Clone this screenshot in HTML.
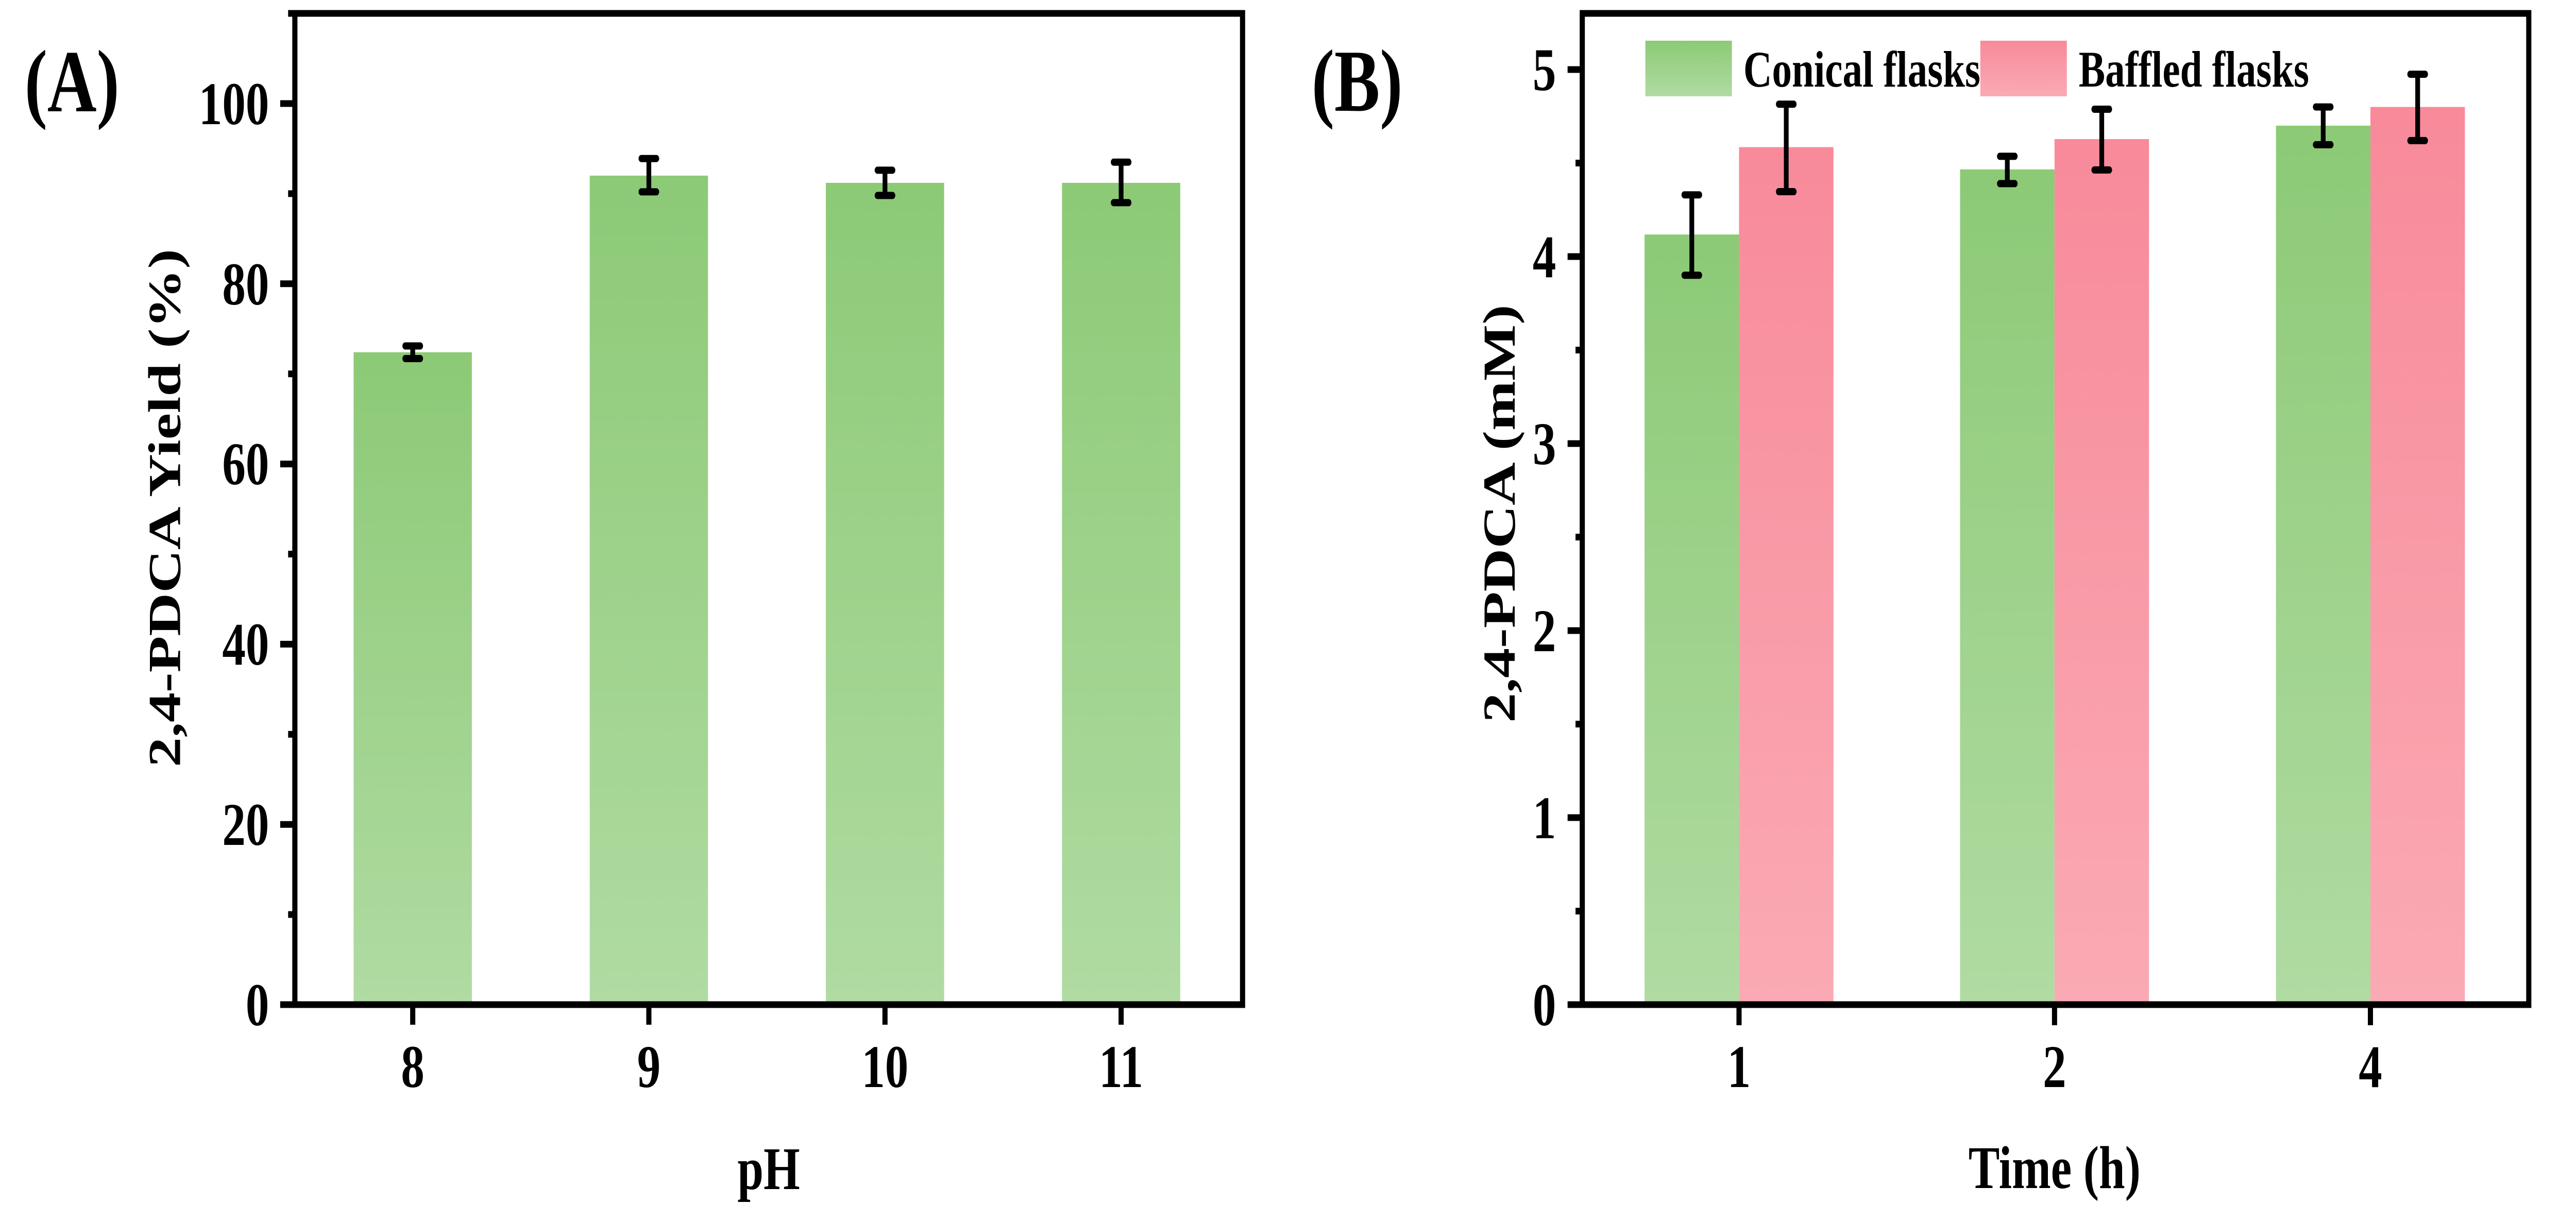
<!DOCTYPE html>
<html>
<head>
<meta charset="utf-8">
<style>
  html, body { margin: 0; padding: 0; background: #ffffff; width: 100%; height: 100%; overflow: hidden; }
  svg { display: block; position: absolute; left: 0; top: 0; width: 100%; height: 100%; }
  text { font-family: "Liberation Serif", "Times New Roman", serif; font-weight: bold; fill: #000; }
</style>
</head>
<body>
<svg viewBox="0 0 6491 2370" preserveAspectRatio="none" xmlns="http://www.w3.org/2000/svg">
  <defs>
    <linearGradient id="gG" x1="0" y1="0" x2="0" y2="1">
      <stop offset="0" stop-color="#8CCA76"/>
      <stop offset="1" stop-color="#B0DBA2"/>
    </linearGradient>
    <linearGradient id="gP" x1="0" y1="0" x2="0" y2="1">
      <stop offset="0" stop-color="#F88A9A"/>
      <stop offset="1" stop-color="#FAAAB4"/>
    </linearGradient>
  </defs>
  <rect x="0" y="0" width="6491" height="2370" fill="#ffffff"/>

  <!-- ================= PANEL A ================= -->
  <text x="62" y="216" font-size="172">(A)</text>

  <!-- bars -->
  <rect x="891" y="683.7" width="298" height="1266.3" fill="url(#gG)"/>
  <rect x="1486" y="340.9" width="298" height="1609.1" fill="url(#gG)"/>
  <rect x="2081" y="354.9" width="298" height="1595.1" fill="url(#gG)"/>
  <rect x="2676" y="354.9" width="298" height="1595.1" fill="url(#gG)"/>

  <!-- error bars -->
  <g stroke="#000" fill="none">
    <line x1="1040" y1="671.5" x2="1040" y2="696" stroke-width="12"/>
    <line x1="1021" y1="671.5" x2="1059" y2="671.5" stroke-width="14" stroke-linecap="round"/>
    <line x1="1021" y1="696" x2="1059" y2="696" stroke-width="14" stroke-linecap="round"/>

    <line x1="1635" y1="307.7" x2="1635" y2="372.4" stroke-width="12"/>
    <line x1="1616" y1="307.7" x2="1654" y2="307.7" stroke-width="14" stroke-linecap="round"/>
    <line x1="1616" y1="372.4" x2="1654" y2="372.4" stroke-width="14" stroke-linecap="round"/>

    <line x1="2230" y1="330.4" x2="2230" y2="379.4" stroke-width="12"/>
    <line x1="2211" y1="330.4" x2="2249" y2="330.4" stroke-width="14" stroke-linecap="round"/>
    <line x1="2211" y1="379.4" x2="2249" y2="379.4" stroke-width="14" stroke-linecap="round"/>

    <line x1="2825" y1="314.7" x2="2825" y2="393.4" stroke-width="12"/>
    <line x1="2806" y1="314.7" x2="2844" y2="314.7" stroke-width="14" stroke-linecap="round"/>
    <line x1="2806" y1="393.4" x2="2844" y2="393.4" stroke-width="14" stroke-linecap="round"/>
  </g>

  <!-- axes frame -->
  <rect x="743" y="26" width="2388" height="1924" fill="none" stroke="#000" stroke-width="13"/>
  <g stroke="#000" stroke-width="13">
    <line x1="706" y1="1950" x2="743" y2="1950"/>
    <line x1="706" y1="1600.2" x2="743" y2="1600.2"/>
    <line x1="706" y1="1250.4" x2="743" y2="1250.4"/>
    <line x1="706" y1="900.6" x2="743" y2="900.6"/>
    <line x1="706" y1="550.8" x2="743" y2="550.8"/>
    <line x1="706" y1="201" x2="743" y2="201"/>
    <line x1="726" y1="1775.1" x2="743" y2="1775.1"/>
    <line x1="726" y1="1425.3" x2="743" y2="1425.3"/>
    <line x1="726" y1="1075.5" x2="743" y2="1075.5"/>
    <line x1="726" y1="725.7" x2="743" y2="725.7"/>
    <line x1="726" y1="375.9" x2="743" y2="375.9"/>
    <line x1="726" y1="26" x2="743" y2="26"/>
    <line x1="1040" y1="1950" x2="1040" y2="1989"/>
    <line x1="1635" y1="1950" x2="1635" y2="1989"/>
    <line x1="2230" y1="1950" x2="2230" y2="1989"/>
    <line x1="2825" y1="1950" x2="2825" y2="1989"/>
  </g>

  <g font-size="118" text-anchor="end">
    <text x="678" y="1990">0</text>
    <text x="678" y="1640">20</text>
    <text x="678" y="1290">40</text>
    <text x="678" y="940">60</text>
    <text x="678" y="591">80</text>
    <text x="678" y="241">100</text>
  </g>
  <g font-size="118" text-anchor="middle">
    <text x="1040" y="2110">8</text>
    <text x="1635" y="2110">9</text>
    <text x="2230" y="2110">10</text>
    <text x="2825" y="2110">11</text>
  </g>
  <text x="1937" y="2308" font-size="118" text-anchor="middle">pH</text>
  <text transform="translate(454,986) rotate(-90)" font-size="116" text-anchor="middle">2,4-PDCA Yield (%)</text>

  <!-- ================= PANEL B ================= -->
  <text x="3305" y="215" font-size="172">(B)</text>

  <rect x="4144" y="455.2" width="238" height="1494.8" fill="url(#gG)"/>
  <rect x="4382" y="285.6" width="238" height="1664.4" fill="url(#gP)"/>
  <rect x="4939" y="328.8" width="238" height="1621.2" fill="url(#gG)"/>
  <rect x="5177" y="270" width="238" height="1680" fill="url(#gP)"/>
  <rect x="5735" y="243.9" width="238" height="1706.1" fill="url(#gG)"/>
  <rect x="5973" y="207.6" width="238" height="1742.4" fill="url(#gP)"/>

  <g stroke="#000" fill="none">
    <line x1="4263" y1="378.2" x2="4263" y2="534.3" stroke-width="12"/>
    <line x1="4244" y1="378.2" x2="4282" y2="378.2" stroke-width="14" stroke-linecap="round"/>
    <line x1="4244" y1="534.3" x2="4282" y2="534.3" stroke-width="14" stroke-linecap="round"/>

    <line x1="4501" y1="202.2" x2="4501" y2="372" stroke-width="12"/>
    <line x1="4482" y1="202.2" x2="4520" y2="202.2" stroke-width="14" stroke-linecap="round"/>
    <line x1="4482" y1="372" x2="4520" y2="372" stroke-width="14" stroke-linecap="round"/>

    <line x1="5058" y1="303.4" x2="5058" y2="356.4" stroke-width="12"/>
    <line x1="5039" y1="303.4" x2="5077" y2="303.4" stroke-width="14" stroke-linecap="round"/>
    <line x1="5039" y1="356.4" x2="5077" y2="356.4" stroke-width="14" stroke-linecap="round"/>

    <line x1="5296" y1="212" x2="5296" y2="329.9" stroke-width="12"/>
    <line x1="5277" y1="212" x2="5315" y2="212" stroke-width="14" stroke-linecap="round"/>
    <line x1="5277" y1="329.9" x2="5315" y2="329.9" stroke-width="14" stroke-linecap="round"/>

    <line x1="5854" y1="207.6" x2="5854" y2="280.9" stroke-width="12"/>
    <line x1="5835" y1="207.6" x2="5873" y2="207.6" stroke-width="14" stroke-linecap="round"/>
    <line x1="5835" y1="280.9" x2="5873" y2="280.9" stroke-width="14" stroke-linecap="round"/>

    <line x1="6092" y1="144.1" x2="6092" y2="272.9" stroke-width="12"/>
    <line x1="6073" y1="144.1" x2="6111" y2="144.1" stroke-width="14" stroke-linecap="round"/>
    <line x1="6073" y1="272.9" x2="6111" y2="272.9" stroke-width="14" stroke-linecap="round"/>
  </g>

  <rect x="4146" y="79" width="218" height="108" fill="url(#gG)"/>
  <text x="4393" y="168" font-size="100">Conical flasks</text>
  <rect x="4990" y="79" width="218" height="108" fill="url(#gP)"/>
  <text x="5238" y="168" font-size="100">Baffled flasks</text>

  <rect x="3987" y="26" width="2385" height="1924" fill="none" stroke="#000" stroke-width="13"/>
  <g stroke="#000" stroke-width="13">
    <line x1="3950" y1="1950" x2="3987" y2="1950"/>
    <line x1="3950" y1="1587" x2="3987" y2="1587"/>
    <line x1="3950" y1="1224" x2="3987" y2="1224"/>
    <line x1="3950" y1="861" x2="3987" y2="861"/>
    <line x1="3950" y1="498" x2="3987" y2="498"/>
    <line x1="3950" y1="135" x2="3987" y2="135"/>
    <line x1="3970" y1="1768.5" x2="3987" y2="1768.5"/>
    <line x1="3970" y1="1405.5" x2="3987" y2="1405.5"/>
    <line x1="3970" y1="1042.5" x2="3987" y2="1042.5"/>
    <line x1="3970" y1="679.5" x2="3987" y2="679.5"/>
    <line x1="3970" y1="316.5" x2="3987" y2="316.5"/>
    <line x1="4382" y1="1950" x2="4382" y2="1990"/>
    <line x1="5177" y1="1950" x2="5177" y2="1990"/>
    <line x1="5973" y1="1950" x2="5973" y2="1990"/>
  </g>

  <g font-size="118" text-anchor="end">
    <text x="3921" y="1990">0</text>
    <text x="3921" y="1627">1</text>
    <text x="3921" y="1264">2</text>
    <text x="3921" y="901">3</text>
    <text x="3921" y="538">4</text>
    <text x="3921" y="175">5</text>
  </g>
  <g font-size="118" text-anchor="middle">
    <text x="4382" y="2110">1</text>
    <text x="5177" y="2110">2</text>
    <text x="5973" y="2110">4</text>
  </g>
  <text x="5177" y="2306" font-size="118" text-anchor="middle">Time (h)</text>
  <text transform="translate(3817,997) rotate(-90)" font-size="116" text-anchor="middle">2,4-PDCA (mM)</text>
</svg>
</body>
</html>
